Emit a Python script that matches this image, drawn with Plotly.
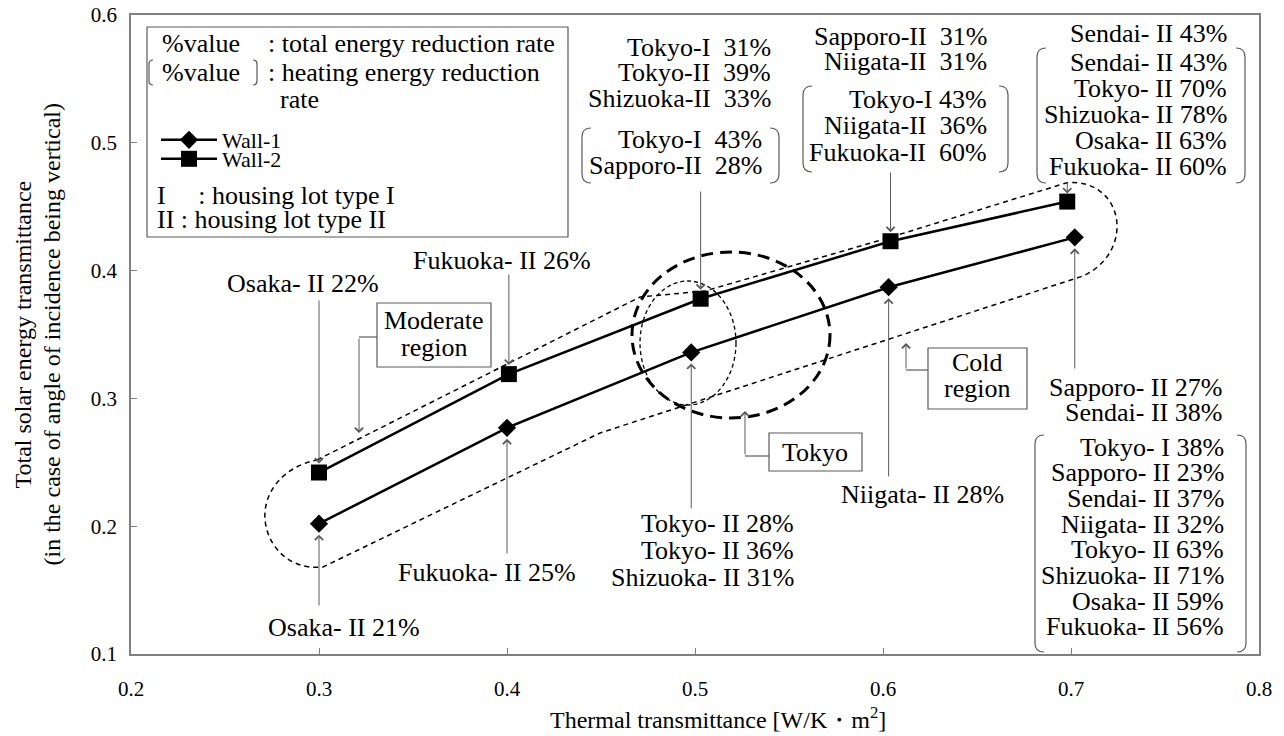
import plotly.graph_objects as go

# ---------------- data ----------------
u_wall1 = [0.300, 0.400, 0.498, 0.603, 0.702]
g_wall1 = [0.202, 0.277, 0.336, 0.387, 0.426]
u_wall2 = [0.300, 0.401, 0.503, 0.604, 0.698]
g_wall2 = [0.242, 0.319, 0.378, 0.423, 0.454]

x_ticks = [0.2, 0.3, 0.4, 0.5, 0.6, 0.7, 0.8]
y_ticks = [0.1, 0.2, 0.3, 0.4, 0.5, 0.6]

# reduction-rate labels
lbl_w2_05_total = ["Tokyo-I  31%", "Tokyo-II  39%", "Shizuoka-II  33%"]
lbl_w2_05_heat = ["Tokyo-I  43%", "Sapporo-II  28%"]
lbl_w2_06_total = ["Sapporo-II  31%", "Niigata-II  31%"]
lbl_w2_06_heat = ["Tokyo-I 43%", "Niigata-II  36%", "Fukuoka-II  60%"]
lbl_w2_07_total = ["Sendai- II 43%"]
lbl_w2_07_heat = ["Sendai- II 43%", "Tokyo- II 70%", "Shizuoka- II 78%",
                  "Osaka- II 63%", "Fukuoka- II 60%"]
lbl_w1_07_total = ["Sapporo- II 27%", "Sendai- II 38%"]
lbl_w1_07_heat = ["Tokyo- I 38%", "Sapporo- II 23%", "Sendai- II 37%", "Niigata- II 32%",
                  "Tokyo- II 63%", "Shizuoka- II 71%", "Osaka- II 59%", "Fukuoka- II 56%"]
lbl_w1_06 = ["Niigata- II 28%"]
lbl_w1_05 = ["Tokyo- II 28%", "Tokyo- II 36%", "Shizuoka- II 31%"]
lbl_w1_04 = ["Fukuoka- II 25%"]
lbl_w1_03 = ["Osaka- II 21%"]
lbl_w2_03 = ["Osaka- II 22%"]
lbl_w2_04 = ["Fukuoka- II 26%"]

# ---------------- geometry ----------------
W, H = 1284, 736
ML, MR, MT, MB = 131, 25, 15, 82
PW, PH = W - ML - MR, H - MT - MB
XR = [0.2, 0.8]
YR = [0.1, 0.6]
SERIF = '"Liberation Serif", "Times New Roman", Times, "DejaVu Serif", serif'
GRAY = "#5a5a5a"


def X(px):
    return XR[0] + (px - ML) / PW * (XR[1] - XR[0])


def Y(py):
    return YR[1] - (py - MT) / PH * (YR[1] - YR[0])


def to_px_y(v):
    return MT + (YR[1] - v) / (YR[1] - YR[0]) * PH


def path(cmds):
    out = []
    for c in cmds:
        op, pts = c[0], c[1:]
        out.append(op + " ".join(f"{X(p[0]):.5f},{Y(p[1]):.5f}" for p in pts))
    return " ".join(out)


fig = go.Figure()
fig.add_trace(go.Scatter(x=u_wall1, y=g_wall1, mode="lines+markers", name="Wall-1",
                         legend="legend",
                         line=dict(color="black", width=2.5),
                         marker=dict(symbol="diamond", size=14, color="black")))
fig.add_trace(go.Scatter(x=u_wall2, y=g_wall2, mode="lines+markers", name="Wall-2",
                         legend="legend2",
                         line=dict(color="black", width=2.5),
                         marker=dict(symbol="square", size=16, color="black")))

shapes = []
annotations = []


def txt(px, py, s, anchor="right", size=26):
    annotations.append(dict(x=X(px), y=Y(py), xref="x", yref="y",
                            text=s.replace(" ", "\u00a0"), showarrow=False,
                            xanchor=anchor, yanchor="middle",
                            font=dict(family=SERIF, size=size, color="black")))


def block(lines, px, py0, step, anchor="right"):
    for i, s in enumerate(lines):
        txt(px, py0 + i * step, s, anchor)


def bracket(x0, x1, y0, y1, r=9):
    shapes.append(dict(type="path", xref="x", yref="y",
                       path=path([("M", (x0 + r, y0)), ("Q", (x0, y0), (x0, y0 + r)),
                                  ("L", (x0, y1 - r)), ("Q", (x0, y1), (x0 + r, y1))]),
                       line=dict(color=GRAY, width=1.2)))
    shapes.append(dict(type="path", xref="x", yref="y",
                       path=path([("M", (x1 - r, y0)), ("Q", (x1, y0), (x1, y0 + r)),
                                  ("L", (x1, y1 - r)), ("Q", (x1, y1), (x1 - r, y1))]),
                       line=dict(color=GRAY, width=1.2)))


def rect(x0, x1, y0, y1, color=GRAY, width=1.2):
    shapes.append(dict(type="rect", xref="x", yref="y", x0=X(x0), x1=X(x1), y0=Y(y1), y1=Y(y0),
                       line=dict(color=color, width=width), fillcolor="rgba(0,0,0,0)"))


def seg(x0, y0, x1, y1):
    shapes.append(dict(type="line", xref="x", yref="y", x0=X(x0), y0=Y(y0), x1=X(x1), y1=Y(y1),
                       line=dict(color=GRAY, width=1.2)))


def data_arrow(us, gs, i, tail_py, standoff=9):
    ay = tail_py - to_px_y(gs[i])
    annotations.append(dict(x=us[i], y=gs[i], xref="x", yref="y", text="", showarrow=True,
                            ax=0, ay=ay, arrowhead=4, arrowsize=1.6, arrowwidth=1,
                            arrowcolor=GRAY, standoff=standoff))


def px_arrow(x, y_head, y_tail):
    annotations.append(dict(x=X(x), y=Y(y_head), xref="x", yref="y", text="", showarrow=True,
                            ax=0, ay=y_tail - y_head, arrowhead=4, arrowsize=1.6, arrowwidth=1,
                            arrowcolor=GRAY))


# ---- text blocks with arrows ----
block(lbl_w2_05_total, 773, 47, 25.5)
block(lbl_w2_05_heat, 764, 139, 26)
bracket(582, 779, 128, 183)
data_arrow(u_wall2, g_wall2, 2, 190)

block(lbl_w2_06_total, 989, 36, 25.5)
block(lbl_w2_06_heat, 989, 99, 26.5)
bracket(803, 1008, 86, 172)
data_arrow(u_wall2, g_wall2, 3, 171)

block(lbl_w2_07_total, 1229, 33, 26)
block(lbl_w2_07_heat, 1229, 62, 26)
bracket(1037, 1245, 48, 183)
data_arrow(u_wall2, g_wall2, 4, 181, standoff=8)

block(lbl_w1_07_total, 1224, 387, 25)
block(lbl_w1_07_heat, 1226, 447, 25.7)
bracket(1035, 1246, 435, 652)
data_arrow(u_wall1, g_wall1, 4, 370, standoff=11)

block(lbl_w1_06, 922, 494, 26, anchor="center")
data_arrow(u_wall1, g_wall1, 3, 478, standoff=11)

block(lbl_w1_05, 796, 523, 27)
data_arrow(u_wall1, g_wall1, 2, 510, standoff=11)

block(lbl_w1_04, 487, 572, 26, anchor="center")
data_arrow(u_wall1, g_wall1, 1, 555, standoff=11)

block(lbl_w1_03, 344, 627, 26, anchor="center")
data_arrow(u_wall1, g_wall1, 0, 607, standoff=11)

block(lbl_w2_03, 303, 283, 26, anchor="center")
data_arrow(u_wall2, g_wall2, 0, 299)

block(lbl_w2_04, 502, 260, 26, anchor="center")
data_arrow(u_wall2, g_wall2, 1, 273)

# ---- region boxes ----
rect(377, 491, 303, 367)
txt(434, 320, "Moderate", anchor="center")
txt(434, 347, "region", anchor="center")
seg(377, 337, 359, 337)
px_arrow(359, 433, 337)

rect(928, 1027, 348, 409)
txt(977, 362, "Cold", anchor="center")
txt(977, 388, "region", anchor="center")
seg(928, 370, 906, 370)
px_arrow(906, 343, 370)

rect(769, 862, 433, 471)
txt(815, 452, "Tokyo", anchor="center")
seg(769, 456, 745, 456)
px_arrow(745, 411, 456)

# ---- dashed regions ----
capsule = path([("M", (317, 460)), ("L", (640, 297)), ("L", (705, 291)), ("L", (888, 238)),
                ("L", (1066, 183)), ("C", (1095, 179), (1118, 200), (1117, 228)),
                ("C", (1116, 255), (1095, 273), (1077, 278)), ("L", (600, 433)),
                ("L", (323, 567)), ("C", (285, 571), (263, 540), (265, 512)),
                ("C", (267, 485), (290, 465), (317, 460))]) + " Z"
shapes.append(dict(type="path", xref="x", yref="y", path=capsule, layer="below",
                   line=dict(color="black", width=1.5, dash="5px,4px")))
shapes.append(dict(type="circle", xref="x", yref="y", x0=X(640), x1=X(736), y0=Y(405), y1=Y(281),
                   layer="below", line=dict(color="black", width=1.3, dash="4px,3px")))
shapes.append(dict(type="circle", xref="x", yref="y", x0=X(632), x1=X(830), y0=Y(418), y1=Y(252),
                   layer="below", line=dict(color="black", width=3, dash="12px,7px")))

# ---- explanation box (top-left) ----
rect(147, 568, 27, 237)
txt(160, 43, "%value", anchor="left")
txt(266, 43, ": total energy reduction rate", anchor="left")
txt(160, 72, "%value", anchor="left")
bracket(149, 257, 60, 85, r=4)
txt(266, 72, ": heating energy reduction", anchor="left")
txt(278, 99, "rate", anchor="left")
txt(155, 195, "I     : housing lot type I", anchor="left")
txt(155, 219, "II : housing lot type II", anchor="left")

# ---- axis titles ----
annotations.append(dict(x=(718 - ML) / PW, y=-(718 - MT - PH) / PH, xref="paper", yref="paper",
                        text="Thermal transmittance [W/K\u30fbm<sup>2</sup>]", showarrow=False,
                        xanchor="center", yanchor="middle",
                        font=dict(family=SERIF, size=24, color="black")))
for px_, s in [(22, "Total solar energy transmittance"),
               (51, "(in the case of angle of incidence being vertical)")]:
    annotations.append(dict(x=(px_ - ML) / PW, y=0.5, xref="paper", yref="paper", text=s,
                            textangle=-90, showarrow=False, xanchor="center", yanchor="middle",
                            font=dict(family=SERIF, size=24, color="black")))

axis_common = dict(showgrid=False, zeroline=False, showline=True, mirror=True,
                   linecolor="#7f7f7f", linewidth=1.5, ticks="inside", ticklen=6,
                   tickcolor="#7f7f7f", tickfont=dict(family=SERIF, size=21, color="black"))

leg_common = dict(xanchor="left", yanchor="top", bgcolor="rgba(0,0,0,0)",
                  font=dict(family=SERIF, size=22, color="black"), itemwidth=56)

fig.update_layout(
    width=W, height=H,
    margin=dict(l=ML, r=MR, t=MT, b=MB, autoexpand=False),
    paper_bgcolor="white", plot_bgcolor="white",
    font=dict(family=SERIF),
    xaxis=dict(range=XR, tickvals=x_ticks, ticktext=[f"{v:.1f}" for v in x_ticks],
               ticklabelstandoff=15, **axis_common),
    yaxis=dict(range=YR, tickvals=y_ticks, ticktext=[f"{v:.1f}" for v in y_ticks],
               ticklabelstandoff=8, **axis_common),
    showlegend=True,
    legend=dict(x=(156 - ML) / PW, y=(MT + PH - 119) / PH, **leg_common),
    legend2=dict(x=(156 - ML) / PW, y=(MT + PH - 138) / PH, **leg_common),
    shapes=shapes,
    annotations=annotations,
)

fig.write_html("out.html", config={"displayModeBar": False},
               post_script="document.body.style.margin='0px';")
